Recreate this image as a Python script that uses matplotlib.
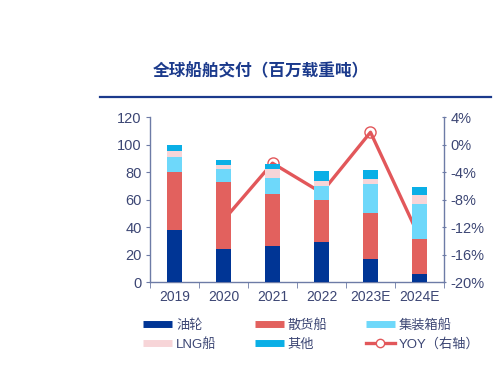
import matplotlib
matplotlib.use("Agg")
import matplotlib.pyplot as plt
import numpy as np
from matplotlib.lines import Line2D

plt.rcParams['font.family'] = ['Liberation Sans', 'Noto Sans CJK SC', 'DejaVu Sans']

years = ['2019', '2020', '2021', '2022', '2023E', '2024E']
tanker = [38, 24, 26, 29, 17, 6]
bulk = [42, 48.5, 38, 31, 33, 25.5]
container = [11, 9.5, 12, 10, 21, 25.5]
lng = [4, 3.5, 6.5, 3.5, 3.7, 6.5]
other = [4.5, 3.5, 3.7, 7, 6.8, 5.5]
yoy_years = ['2020', '2021', '2022', '2023E', '2024E']
yoy = [-11.0, -2.7, -7.0, 1.8, -13.5]

series = [('油轮', tanker, '#003595'),
          ('散货船', bulk, '#E2615E'),
          ('集装箱船', container, '#6ED8FA'),
          ('LNG船', lng, '#F7D5D8'),
          ('其他', other, '#0AAFE6')]
line_color = '#E2575A'
text_color = '#3C4674'
spine_color = '#6D7BA6'

fig = plt.figure(figsize=(5.0, 3.66), dpi=100)
ax = fig.add_axes([0.300, 0.2295, 0.588, 0.4505])
ax2 = ax.twinx()

x = np.arange(len(years))
bottom = np.zeros(len(years))
for name, vals, col in series:
    ax.bar(x, vals, width=0.31, bottom=bottom, color=col, zorder=3)
    bottom += np.array(vals)

xi = [years.index(y) for y in yoy_years]
ax2.plot(xi, yoy, color=line_color, lw=2.4, marker='o', ms=8,
         mfc='none', mec=line_color, mew=1.0, zorder=1)

# put line axis behind bars
ax2.set_zorder(1)
ax.set_zorder(2)
ax.patch.set_visible(False)

ax.set_xlim(-0.5, len(years) - 0.5)
ax.set_ylim(0, 120)
ax.set_yticks(np.arange(0, 121, 20))
ax2.set_ylim(-20, 4)
ax2.set_yticks(np.arange(-20, 5, 4))
ax2.set_yticklabels([f'{v}%' for v in np.arange(-20, 5, 4)])

ax.set_xticks(x)
ax.set_xticklabels(years)
ax.set_xticks(np.arange(-0.5, len(years), 1), minor=True)
ax.tick_params(axis='x', which='major', length=0, pad=6, labelsize=10, labelcolor=text_color)
ax.tick_params(axis='x', which='minor', length=4, color=spine_color, direction='out')
ax.tick_params(axis='y', length=3, color=spine_color, labelsize=10.5, labelcolor=text_color, pad=3)
ax2.tick_params(axis='y', length=3, direction='inout', color=spine_color, labelsize=10.5, labelcolor=text_color, pad=3)

for a in (ax, ax2):
    a.spines['top'].set_visible(False)
    for s in ('left', 'right', 'bottom'):
        a.spines[s].set_color(spine_color)
        a.spines[s].set_linewidth(1.0)
ax.spines['right'].set_visible(False)
ax2.spines['left'].set_visible(False)
ax2.spines['bottom'].set_visible(False)

# title
fig.text(0.522, 0.806, '全球船舶交付（百万载重吨）', ha='center', va='center',
         fontsize=12, fontweight='bold', color='#1B3A8C')
fig.add_artist(Line2D([0.200, 0.982], [0.736, 0.736], color='#1B3A8C', lw=1.6,
                      transform=fig.transFigure))

# legend
handles = []
for name, vals, col in series:
    handles.append(Line2D([], [], color=col, lw=5, solid_capstyle='butt'))
handles.append(Line2D([], [], color=line_color, lw=2.4, marker='o', ms=6,
                      mfc='white', mec=line_color))
labels = [s[0] for s in series] + ['YOY（右轴）']
order = [0, 3, 1, 4, 2, 5]
leg = fig.legend([handles[i] for i in order], [labels[i] for i in order],
                 ncol=3, loc='center left', bbox_to_anchor=(0.286, 0.085),
                 frameon=False, fontsize=9.5, handlelength=2.2, handletextpad=0.3,
                 columnspacing=2.9, labelspacing=0.5, borderpad=0, borderaxespad=0)
for t in leg.get_texts():
    t.set_color(text_color)

fig.savefig('out.png', dpi=100)
